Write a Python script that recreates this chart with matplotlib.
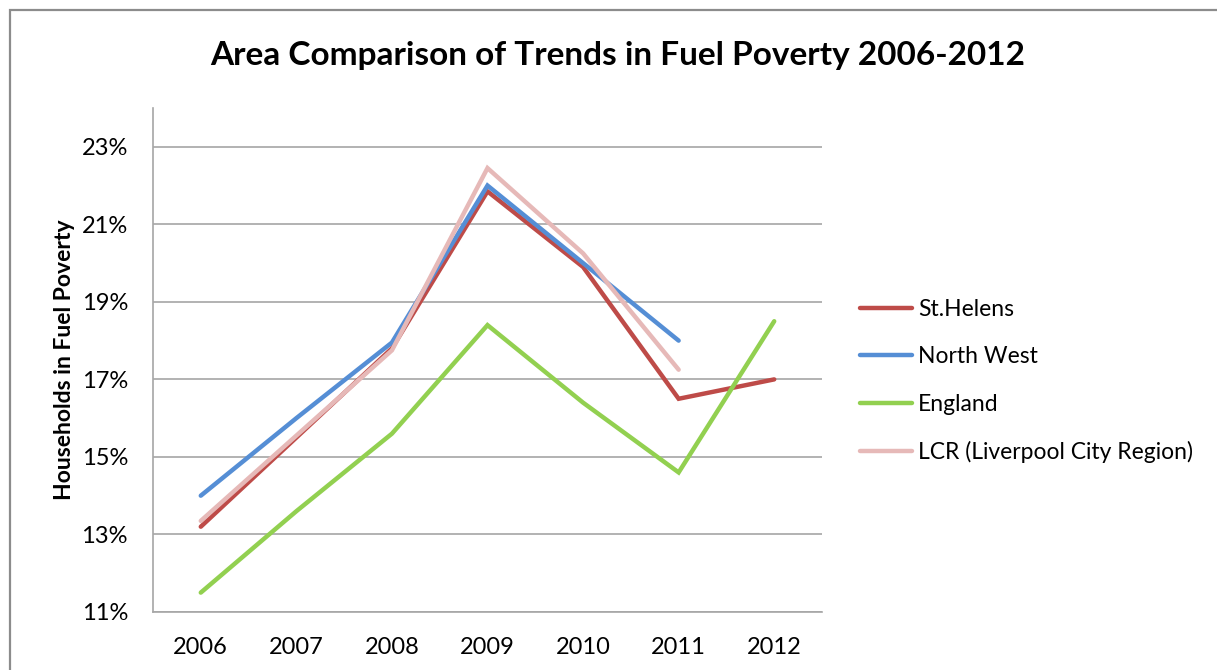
import matplotlib
matplotlib.use("Agg")
import matplotlib.pyplot as plt
from matplotlib.patches import Rectangle
from matplotlib.ticker import FuncFormatter

plt.rcParams['font.family'] = ['Lato', 'DejaVu Sans']

years = ['2006', '2007', '2008', '2009', '2010', '2011', '2012']
st_helens = [13.2, 15.5, 17.8, 21.85, 19.9, 16.5, 17.0]
north_west = [14.0, 16.0, 17.95, 22.0, 20.0, 18.0]
england = [11.5, 13.6, 15.6, 18.4, 16.4, 14.6, 18.5]
lcr = [13.35, 15.55, 17.75, 22.45, 20.25, 17.25]

series = [
    ('St.Helens', st_helens, '#BE4B48'),
    ('North West', north_west, '#558ED5'),
    ('England', england, '#92D050'),
    ('LCR (Liverpool City Region)', lcr, '#E6B9B8'),
]

fig = plt.figure(figsize=(12.17, 6.70), dpi=100)
ax = fig.add_axes([153 / 1217, 1 - 612 / 670, 669 / 1217, 504 / 670])

# outer chart frame
fig.patches.append(Rectangle((10 / 1217, -0.1), 1.2, (660 / 670) + 0.1,
                             transform=fig.transFigure, fill=False,
                             edgecolor='#8c8c8c', linewidth=1.6))

for name, vals, col in series:
    ax.plot(range(len(vals)), vals, color=col, linewidth=3.2,
            solid_capstyle='round', solid_joinstyle='miter', label=name)

ax.set_xlim(-0.5, 6.5)
ax.set_ylim(11, 24)
ax.set_yticks([11, 13, 15, 17, 19, 21, 23])
ax.yaxis.set_major_formatter(FuncFormatter(lambda v, p: '%d%%' % v))
ax.set_xticks(range(len(years)))
ax.set_xticklabels(years)
ax.grid(axis='y', color='#a6a6a6', linewidth=1.2)
ax.set_axisbelow(True)

for s in ['top', 'right']:
    ax.spines[s].set_visible(False)
for s in ['left', 'bottom']:
    ax.spines[s].set_color('#a6a6a6')
    ax.spines[s].set_linewidth(1.2)

ax.tick_params(axis='y', length=0, pad=18, labelsize=17, colors='#000000')
ax.tick_params(axis='x', length=0, pad=18, labelsize=17)

ax.set_ylabel('Households in Fuel Poverty', fontsize=16.5, fontweight='bold',
              labelpad=5)

fig.text(618 / 1217, 1 - 55 / 670,
         'Area Comparison of Trends in Fuel Poverty 2006-2012',
         ha='center', va='center', fontsize=24, fontweight='bold')

leg = ax.legend(loc='center left', bbox_to_anchor=(1.026, 0.458),
                frameon=False, fontsize=16.5, handlelength=2.27,
                handletextpad=0.26, labelspacing=1.15)

fig.savefig('out.png', dpi=100)
